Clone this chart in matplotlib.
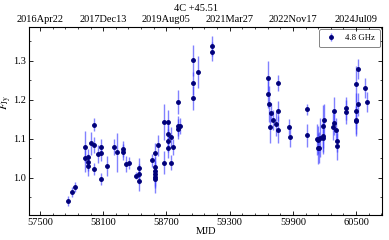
import numpy as np
import pandas as pd
import matplotlib
matplotlib.use('Agg')
import matplotlib.pyplot as plt
from matplotlib.ticker import MultipleLocator, AutoMinorLocator

#***** Data (4.8 GHz) *****#
mjd = [57768, 57803, 57835, 57926, 57926, 57957, 57957, 57957, 57983, 58014,
       58014, 58014, 58046, 58075, 58075, 58075, 58137, 58198, 58229, 58289,
       58289, 58321, 58349, 58412, 58444, 58444, 58444, 58561, 58592, 58592,
       58592, 58592, 58592, 58592, 58620, 58681, 58681, 58712, 58712, 58712,
       58712, 58741, 58741, 58763, 58807, 58807, 58807, 58832, 58952, 58952,
       58952, 59003, 59135, 59135,
       59662, 59662, 59678, 59685, 59694, 59709, 59741, 59760, 59760, 59760,
       59861, 59877, 60032, 60038, 60126, 60134, 60138, 60149, 60161, 60183,
       60183, 60183, 60199, 60278, 60287, 60291, 60310, 60319, 60319, 60404,
       60404, 60495, 60495, 60495, 60504, 60521, 60521, 60587, 60600]
flux = [0.941, 0.963, 0.976, 1.080, 1.050, 1.053, 1.040, 1.030, 1.088, 1.136,
        1.084, 1.023, 1.061, 1.079, 1.063, 0.997, 1.031, 1.079, 1.066, 1.074,
        1.066, 1.036, 1.039, 1.006, 1.025, 1.010, 0.992, 1.045, 1.063, 1.028,
        1.018, 1.009, 1.003, 0.997, 1.083, 1.143, 1.039, 1.143, 1.112, 1.095,
        1.077, 1.105, 1.039, 1.079, 1.194, 1.133, 1.125, 1.133, 1.301, 1.242,
        1.204, 1.271, 1.338, 1.323,
        1.255, 1.215, 1.189, 1.130, 1.167, 1.148, 1.138, 1.242, 1.171, 1.123,
        1.130, 1.104, 1.109, 1.175, 1.099, 1.097, 1.076, 1.077, 1.103, 1.106,
        1.101, 1.132, 1.148, 1.131, 1.171, 1.140, 1.123, 1.095, 1.081, 1.178,
        1.169, 1.240, 1.171, 1.146, 1.148, 1.279, 1.188, 1.230, 1.194]
err = [0.013, 0.013, 0.013, 0.040, 0.035, 0.022, 0.022, 0.025, 0.030, 0.016,
       0.020, 0.015, 0.023, 0.020, 0.020, 0.015, 0.025, 0.020, 0.050, 0.020,
       0.020, 0.020, 0.015, 0.010, 0.025, 0.025, 0.025, 0.017, 0.025, 0.025,
       0.025, 0.030, 0.030, 0.035, 0.028, 0.045, 0.030, 0.030, 0.030, 0.030,
       0.025, 0.025, 0.020, 0.020, 0.030, 0.025, 0.025, 0.020, 0.040, 0.030,
       0.030, 0.040, 0.025, 0.025,
       0.045, 0.035, 0.045, 0.040, 0.025, 0.025, 0.030, 0.020, 0.025, 0.035,
       0.020, 0.025, 0.030, 0.015, 0.040, 0.035, 0.040, 0.040, 0.050, 0.040,
       0.040, 0.055, 0.040, 0.035, 0.035, 0.030, 0.030, 0.030, 0.035, 0.030,
       0.030, 0.045, 0.045, 0.040, 0.035, 0.025, 0.030, 0.025, 0.025]

xticks = [57500, 58100, 58700, 59300, 59900, 60500]

plt.rcParams['font.family'] = 'Liberation Serif'
plt.rcParams['mathtext.fontset'] = 'stix'
plt.rcParams['font.size'] = 7.5

fig = plt.figure(figsize=(3.89, 2.40), dpi=100)
ax = fig.add_axes([0.0746, 0.104, 0.9074, 0.7835])

ax.errorbar(mjd, flux, yerr=err, fmt='o', color='#00007a', ms=2.5,
            ecolor=(0.25, 0.25, 1.0, 0.65), elinewidth=1.0, capsize=0,
            label='4.8 GHz')

ax.set_xlim(57396, 60746)
ax.set_ylim(0.905, 1.386)
ax.set_xticks(xticks)
ax.xaxis.set_minor_locator(AutoMinorLocator(5))
ax.yaxis.set_major_locator(MultipleLocator(0.1))
ax.yaxis.set_minor_locator(MultipleLocator(0.05))
ax.tick_params(which='both', direction='in', right=True, labelsize=7.5, pad=2)
ax.tick_params(which='major', length=3, width=0.6)
ax.tick_params(which='minor', length=1.6, width=0.5)
for s in ax.spines.values():
    s.set_linewidth(0.6)

ax.set_xlabel('MJD', labelpad=0)
ax.set_ylabel(r'$F_{\rm Jy}$', fontsize=8)
ax.yaxis.set_label_coords(-0.043, 0.6)

# top axis with calendar dates
ax2 = ax.twiny()
ax2.set_xlim(ax.get_xlim())
ax2.set_xticks(xticks)
dates = pd.Timestamp('1858-11-17') + pd.to_timedelta(xticks, unit='D')
ax2.set_xticklabels([d.strftime('%Y%b%d') for d in dates])
ax2.xaxis.set_minor_locator(AutoMinorLocator(5))
ax2.tick_params(which='both', direction='in', labelsize=7.5, pad=2)
ax2.tick_params(which='major', length=3, width=0.6)
ax2.tick_params(which='minor', length=1.6, width=0.5)

fig.text(0.505, 0.965, '4C +45.51', ha='center', va='center', fontsize=7.5)

leg = ax.legend(loc='upper right', fontsize=6.3, frameon=True, fancybox=True,
                borderaxespad=0.2, handlelength=1.6, borderpad=0.6)
leg.get_frame().set_edgecolor('0.3')
leg.get_frame().set_linewidth(0.6)

fig.savefig('out.png', dpi=100)
